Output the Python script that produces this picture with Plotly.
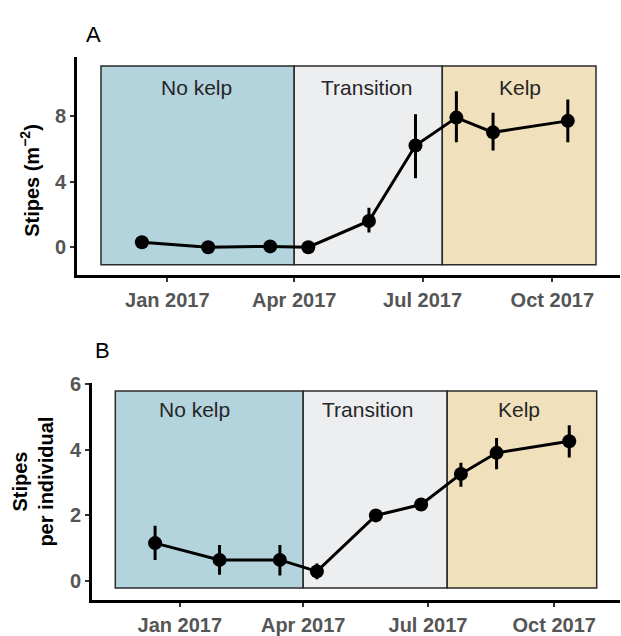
import plotly.graph_objects as go

# Sampling dates shared by both panels
dates = ["2016-12-14", "2017-01-30", "2017-03-15", "2017-04-11", "2017-05-24",
         "2017-06-26", "2017-07-25", "2017-08-20", "2017-10-12"]

# Panel A: stipe density (m^-2), mean with error bounds
dens_mean = [0.3, 0.0, 0.05, 0.0, 1.6, 6.2, 7.9, 7.0, 7.7]
dens_hi = [0.45, 0.15, 0.2, 0.12, 2.4, 8.1, 9.5, 8.2, 9.0]
dens_lo = [0.15, -0.15, -0.1, -0.12, 0.9, 4.2, 6.4, 5.9, 6.4]

# Panel B: stipes per individual, mean with error bounds
ind_mean = [1.16, 0.65, 0.65, 0.3, 2.0, 2.33, 3.26, 3.9, 4.25]
ind_hi = [1.69, 1.1, 1.1, 0.54, 2.12, 2.43, 3.6, 4.35, 4.74]
ind_lo = [0.65, 0.2, 0.18, 0.06, 1.88, 2.23, 2.87, 3.4, 3.76]

# Kelp-state periods
periods = ["No kelp", "Transition", "Kelp"]
period_start = ["2016-11-15", "2017-04-01", "2017-07-15"]
period_end = ["2017-04-01", "2017-07-15", "2017-11-01"]
period_colors = ["#b3d3dd", "#eceef0", "#f0e0bb"]
label_dates_a = ["2017-01-22", "2017-05-22", "2017-09-08"]
label_dates_b = ["2017-01-12", "2017-05-18", "2017-09-05"]

x_tickvals = ["2017-01-01", "2017-04-01", "2017-07-01", "2017-10-01"]
x_ticktext = ["Jan 2017", "Apr 2017", "Jul 2017", "Oct 2017"]
x_range = ["2016-10-29", "2017-11-18"]

W, H = 621, 636

fig = go.Figure()


def add_series(mean, hi, lo, xa, ya):
    fig.add_trace(go.Scatter(
        x=dates, y=mean, xaxis=xa, yaxis=ya, mode="lines+markers",
        line=dict(color="black", width=3),
        marker=dict(color="black", size=14),
        error_y=dict(type="data", symmetric=False,
                     array=[h - m for h, m in zip(hi, mean)],
                     arrayminus=[m - l for m, l in zip(mean, lo)],
                     color="black", thickness=3, width=0),
        showlegend=False, hoverinfo="skip"))


add_series(dens_mean, dens_hi, dens_lo, "x", "y")
add_series(ind_mean, ind_hi, ind_lo, "x2", "y2")

label_font = dict(family="Liberation Sans", size=21, color="#262626")
shapes = []
annotations = []
panels = [("x", "y", -1.07, 11.05, label_dates_a, 9.75),
          ("x2", "y2", -0.2, 5.78, label_dates_b, 5.21)]
for xr, yr, y0, y1, label_dates, label_y in panels:
    for name, s, e, c, ld in zip(periods, period_start, period_end, period_colors, label_dates):
        shapes.append(dict(type="rect", xref=xr, yref=yr, x0=s, x1=e, y0=y0, y1=y1,
                           fillcolor=c, line=dict(color="#2b2b2b", width=1.5),
                           layer="below"))
        annotations.append(dict(x=ld, y=label_y, xref=xr, yref=yr, text=name,
                                showarrow=False, xanchor="center", yanchor="middle",
                                font=label_font))

# Panel letters
letter_font = dict(family="Liberation Sans", size=22, color="black")
annotations.append(dict(x=93 / W, y=1 - 25 / H, xref="paper", yref="paper", text="A",
                        showarrow=False, xanchor="center", yanchor="middle", font=letter_font))
annotations.append(dict(x=103 / W, y=1 - 349 / H, xref="paper", yref="paper", text="B",
                        showarrow=False, xanchor="center", yanchor="middle", font=letter_font))

# Y-axis titles
title_font = dict(family="Liberation Sans", size=20, color="black", weight="bold")
annotations.append(dict(x=30 / W, y=1 - 175 / H, xref="paper", yref="paper",
                        text="Stipes (m<sup>−2</sup>)", textangle=-90, showarrow=False,
                        xanchor="center", yanchor="middle", font=title_font))
annotations.append(dict(x=33 / W, y=1 - 483 / H, xref="paper", yref="paper",
                        text="Stipes<br>per individual", textangle=-90, showarrow=False,
                        xanchor="center", yanchor="middle", font=title_font))

tick_font = dict(family="Liberation Sans", size=20, color="#555555", weight="bold")

common_x = dict(type="date", range=x_range, tickvals=x_tickvals, ticktext=x_ticktext,
                showline=True, linecolor="black", linewidth=3, ticks="outside",
                ticklen=4, tickwidth=2, tickcolor="#333333", showgrid=False,
                zeroline=False, tickfont=tick_font, ticklabelstandoff=1)
common_y = dict(showline=True, linecolor="black", linewidth=3, ticks="outside",
                ticklen=4, tickwidth=2, tickcolor="#333333", showgrid=False,
                zeroline=False, tickfont=tick_font)

fig.update_layout(
    width=W, height=H, margin=dict(l=0, r=0, t=0, b=0),
    paper_bgcolor="white", plot_bgcolor="white",
    xaxis=dict(common_x, domain=[77 / W, 620 / W], anchor="y"),
    yaxis=dict(common_y, domain=[1 - 271 / H, 1 - 48 / H], range=[-1.67, 11.6],
               tickvals=[0, 4, 8], anchor="x"),
    xaxis2=dict(common_x, domain=[92 / W, 620 / W], anchor="y2"),
    yaxis2=dict(common_y, domain=[1 - 604 / H, 1 - 382 / H], range=[-0.56, 6.02],
                tickvals=[0, 2, 4, 6], anchor="x2"),
    shapes=shapes, annotations=annotations,
)

fig.write_html("out.html")
